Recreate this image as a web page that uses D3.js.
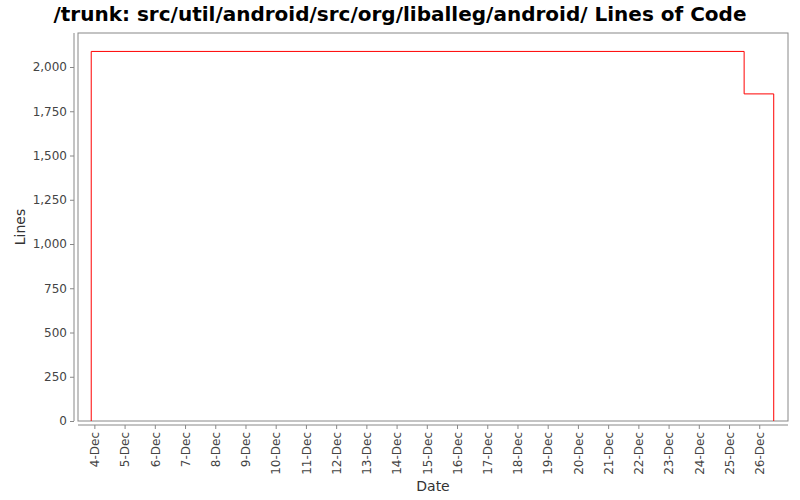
<!DOCTYPE html>
<html>
<head>
<meta charset="utf-8">
<script src="https://cdn.jsdelivr.net/npm/d3@7"></script>
<style>
  body { margin: 0; background: #fff; }
  text { font-family: "DejaVu Sans", sans-serif; }
</style>
</head>
<body>
<div id="chart"></div>
<script>
// data
var dates = ["2012-12-03T21:30", "2012-12-03T21:30", "2012-12-25T12:00", "2012-12-26T11:30"];
var lines = [0, 2088, 1848, 0];
var yTicks = [0, 250, 500, 750, 1000, 1250, 1500, 1750, 2000];
var xDomain = ["2012-12-03T11:00", "2012-12-26T22:50"];
var title = "/trunk: src/util/android/src/org/liballeg/android/ Lines of Code";

var width = 800, height = 500;
var plot = {left: 78, right: 788, top: 33, bottom: 421};
var parse = d3.isoParse;

var svg = d3.select("#chart").append("svg")
  .attr("width", width).attr("height", height);

var x = d3.scaleTime()
  .domain(xDomain.map(parse))
  .range([plot.left, plot.right]);
var y = d3.scaleLinear()
  .domain([0, 2200])
  .range([plot.bottom, plot.bottom - 2200 * 354 / 2000]);

// title
svg.append("text")
  .attr("x", 400).attr("y", 21)
  .attr("text-anchor", "middle")
  .attr("font-size", "20px").attr("font-weight", "bold")
  .attr("fill", "#000")
  .text(title);

// plot border
svg.append("rect")
  .attr("x", plot.left).attr("y", plot.top)
  .attr("width", plot.right - plot.left).attr("height", plot.bottom - plot.top)
  .attr("fill", "#fff").attr("stroke", "#888").attr("stroke-width", 1);

// y axis
var yAxis = svg.append("g")
  .attr("transform", "translate(74,0)")
  .call(d3.axisLeft(y).tickValues(yTicks).tickFormat(d3.format(",")).tickSizeOuter(0).tickSize(4).tickPadding(3));
yAxis.select(".domain").attr("d", "M0," + plot.top + "V" + plot.bottom).attr("stroke", "#888");
yAxis.selectAll(".tick line").attr("stroke", "#888");
yAxis.selectAll(".tick text").attr("fill", "#444").attr("font-size", "12px")
  .style("font-family", "DejaVu Sans");

// x axis, one tick per day
var days = d3.timeDay.range(parse("2012-12-04T00:00"), parse("2012-12-27T00:00"));
var xAxis = svg.append("g")
  .attr("transform", "translate(0,425)")
  .call(d3.axisBottom(x).tickValues(days).tickFormat(d3.timeFormat("%-d-%b")).tickSizeOuter(0).tickSize(4));
xAxis.select(".domain").attr("d", "M" + plot.left + ",0H" + plot.right).attr("stroke", "#888");
xAxis.selectAll(".tick line").attr("stroke", "#888");
xAxis.selectAll(".tick text")
  .attr("fill", "#444").attr("font-size", "12px")
  .style("font-family", "DejaVu Sans")
  .attr("transform", "rotate(-90)")
  .attr("text-anchor", "end")
  .attr("x", -7).attr("y", 0).attr("dy", "0.35em");

// axis labels
svg.append("text")
  .attr("x", (plot.left + plot.right) / 2).attr("y", 491)
  .attr("text-anchor", "middle").attr("font-size", "14px").attr("fill", "#333")
  .text("Date");
svg.append("text")
  .attr("transform", "translate(25," + (plot.top + plot.bottom) / 2 + ") rotate(-90)")
  .attr("text-anchor", "middle").attr("font-size", "14px").attr("fill", "#333")
  .text("Lines");

// the step line
var line = d3.line()
  .x(function(d, i) { return x(parse(dates[i])); })
  .y(function(d) { return y(d); })
  .curve(d3.curveStepAfter);
svg.append("path")
  .datum(lines)
  .attr("d", line)
  .attr("fill", "none")
  .attr("stroke", "#f00")
  .attr("stroke-width", 1);
</script>
</body>
</html>
